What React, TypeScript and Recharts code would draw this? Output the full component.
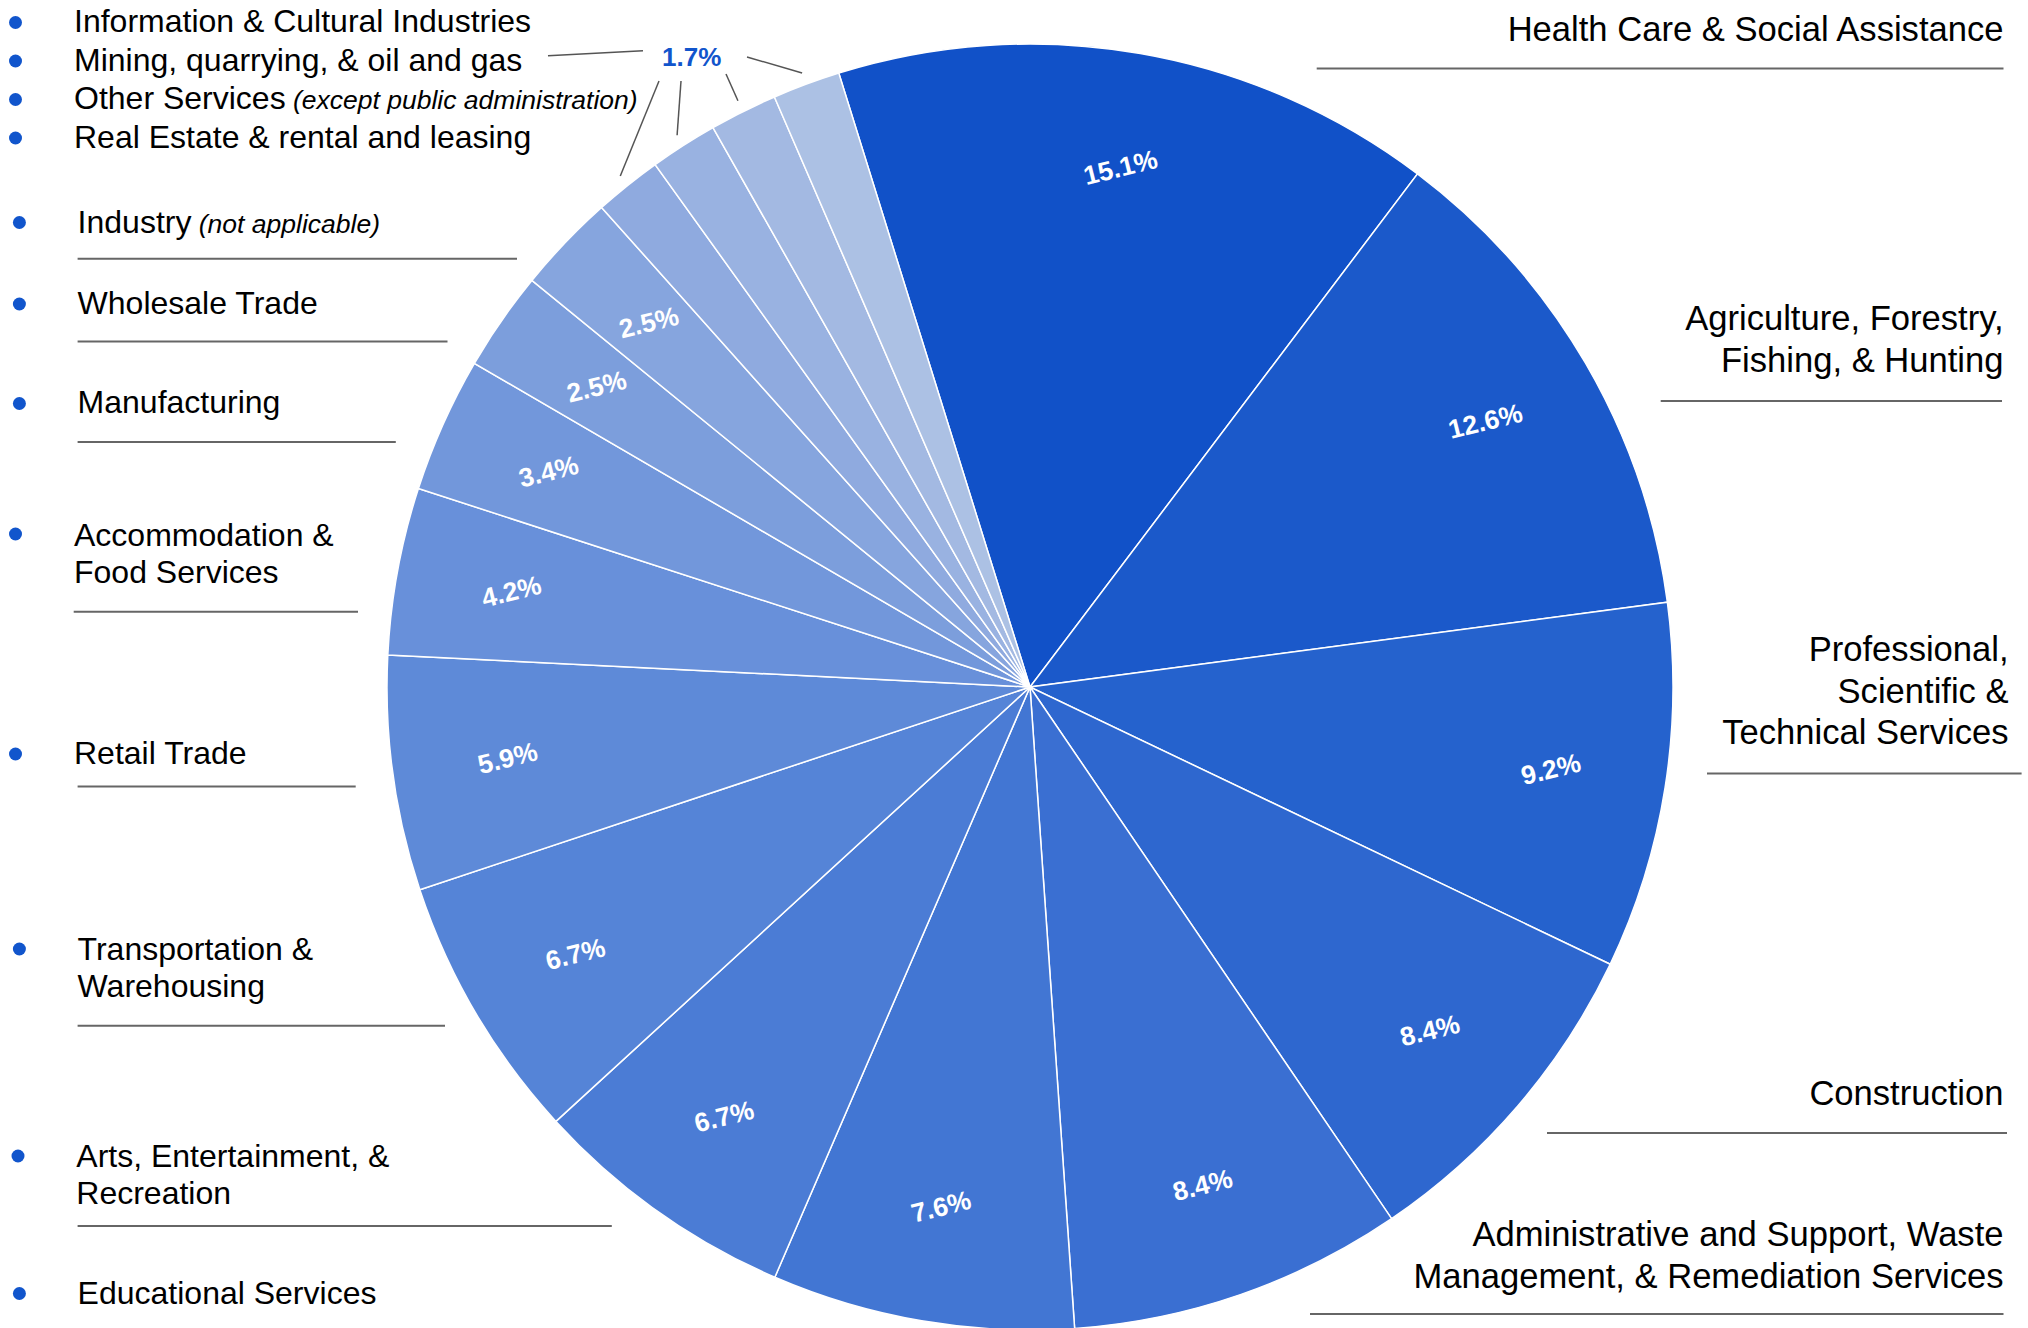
import { PieChart, Pie, Cell } from 'recharts'

// slices in clockwise order, starting with Health Care at the top
const categories = [
  'Health Care & Social Assistance',
  'Agriculture, Forestry,\nFishing, & Hunting',
  'Professional,\nScientific &\nTechnical Services',
  'Construction',
  'Administrative and Support, Waste\nManagement, & Remediation Services',
  'Educational Services',
  'Arts, Entertainment, &\nRecreation',
  'Transportation &\nWarehousing',
  'Retail Trade',
  'Accommodation &\nFood Services',
  'Manufacturing',
  'Wholesale Trade',
  'Industry',
  'Real Estate & rental and leasing',
  'Other Services',
  'Mining, quarrying, & oil and gas',
  'Information & Cultural Industries',
]

const categoryNotes = ['', '', '', '', '', '', '', '', '', '', '', '', '(not applicable)', '', '(except public administration)', '', '']

const shares = [15.1, 12.6, 9.2, 8.4, 8.4, 7.6, 6.7, 6.7, 5.9, 4.2, 3.4, 2.5, 2.5, 1.7, 1.7, 1.7, 1.7]

const sliceColors = [
  '#1151c8', '#1b59ca', '#2562cd', '#2e67cf', '#3a6fd2', '#4276d3', '#4b7cd5', '#5584d7',
  '#5e8ad8', '#6890da', '#7297db', '#7c9edc', '#86a5de', '#8faadf', '#99b2e1', '#a3b9e2', '#acc1e4',
]

// the 1.7% slices share one callout label
const SMALL_LABEL = '1.7%'

const data = categories.map((name, i) => ({ name, value: shares[i] }))

const FONT = '"Liberation Sans", Arial, Helvetica, sans-serif'
const RAD = Math.PI / 180
const CX = 1030
const CY = 687
const R = 643

// where each leader line leaves the 1.7% callout
const LEADER_FROM: Record<number, [number, number]> = {
  13: [659, 81],
  14: [681, 81],
  15: [726, 74],
  16: [747, 57],
}

const LEFT = [
  { i: 16, x: 74, y: 32, bx: 15.5, by: 22.5 },
  { i: 15, x: 74, y: 70.5, bx: 15.5, by: 61 },
  { i: 14, x: 74, y: 109, bx: 15.5, by: 99.5 },
  { i: 13, x: 74, y: 147.5, bx: 15.5, by: 138 },
  { i: 12, x: 77.6, y: 232.5, bx: 19.4, by: 222.5, rule: [77.6, 517, 258.7] },
  { i: 11, x: 77.6, y: 314, bx: 19.4, by: 304, rule: [77.6, 447.5, 341.5] },
  { i: 10, x: 77.6, y: 412.5, bx: 19.4, by: 403.5, rule: [77.6, 395.8, 442] },
  { i: 9, x: 74, y: 545.5, bx: 15.5, by: 534, rule: [73.7, 358, 611.8] },
  { i: 8, x: 74, y: 764, bx: 15.5, by: 754, rule: [77.6, 355.7, 786.4] },
  { i: 7, x: 77.6, y: 959.5, bx: 19.4, by: 949, rule: [77.6, 445, 1025.7] },
  { i: 6, x: 76.3, y: 1166.5, bx: 18, by: 1156, rule: [77.6, 611.8, 1226] },
  { i: 5, x: 77.6, y: 1303.5, bx: 19.4, by: 1293.5 },
]

const RIGHT = [
  { i: 0, x: 2003.5, y: 40.5, rule: [1316.7, 2003.5, 68.5] },
  { i: 1, x: 2003.5, y: 330, rule: [1660.7, 2002, 401] },
  { i: 2, x: 2008.6, y: 661, rule: [1707, 2021.6, 773.5] },
  { i: 3, x: 2003.5, y: 1105, rule: [1547, 2007, 1133] },
  { i: 4, x: 2003.5, y: 1246, rule: [1310, 2003.5, 1314] },
]

// eslint-disable-next-line @typescript-eslint/no-explicit-any
function renderSliceLabel(props: any) {
  const { cx, cy, midAngle, outerRadius, index, value } = props
  const from = LEADER_FROM[index]
  if (from) {
    const r = outerRadius + 12
    return (
      <line
        key={`lead-${index}`}
        x1={from[0]}
        y1={from[1]}
        x2={cx + r * Math.cos(midAngle * RAD)}
        y2={cy - r * Math.sin(midAngle * RAD)}
        stroke="#555"
        strokeWidth={1.5}
      />
    )
  }
  const r = outerRadius * 0.82
  const x = cx + r * Math.cos(midAngle * RAD)
  const y = cy - r * Math.sin(midAngle * RAD)
  return (
    <text
      key={`lbl-${index}`}
      x={x}
      y={y}
      fill="#fff"
      fontSize={26.5}
      fontWeight="bold"
      fontFamily={FONT}
      textAnchor="middle"
      dominantBaseline="central"
      transform={`rotate(-14 ${x} ${y})`}
    >
      {value}%
    </text>
  )
}

function Rule({ r }: { r?: number[] }) {
  if (!r) return null
  return <line x1={r[0]} x2={r[1]} y1={r[2]} y2={r[2]} stroke="#666" strokeWidth={2} />
}

export default function App() {
  return (
    <div style={{ position: 'absolute', left: 0, top: 0, width: 2028, height: 1328, background: '#fff', overflow: 'hidden' }}>
      <PieChart width={2028} height={1328} margin={{ top: 0, right: 0, bottom: 0, left: 0 }}>
        <Pie
          data={data}
          dataKey="value"
          nameKey="name"
          cx={CX}
          cy={CY}
          outerRadius={R}
          startAngle={107.3}
          endAngle={-252.7}
          stroke="#fff"
          strokeWidth={1.5}
          label={renderSliceLabel}
          labelLine={false}
          isAnimationActive={false}
        >
          {data.map((d, i) => (
            <Cell key={d.name} fill={sliceColors[i]} />
          ))}
        </Pie>
      </PieChart>

      <svg width={2028} height={1328} style={{ position: 'absolute', left: 0, top: 0, pointerEvents: 'none' }} fontFamily={FONT}>
        <text x={691.7} y={65.5} fill="#1155cc" fontSize={26} fontWeight="bold" textAnchor="middle">
          {SMALL_LABEL}
        </text>
        <line x1={548} y1={55.7} x2={643} y2={50.7} stroke="#555" strokeWidth={1.5} />

        {LEFT.map((e) => {
          const lines = categories[e.i].split('\n')
          return (
            <g key={e.i}>
              <circle cx={e.bx} cy={e.by} r={6.5} fill="#1155cc" />
              {lines.map((ln, k) => (
                <text key={k} x={e.x} y={e.y + k * 37.5} fontSize={32} fill="#000">
                  {ln}
                  {k === lines.length - 1 && categoryNotes[e.i] ? (
                    <tspan fontSize={26.5} fontStyle="italic">{' ' + categoryNotes[e.i]}</tspan>
                  ) : null}
                </text>
              ))}
              <Rule r={e.rule} />
            </g>
          )
        })}

        {RIGHT.map((e) => (
          <g key={e.i}>
            {categories[e.i].split('\n').map((ln, k) => (
              <text key={k} x={e.x} y={e.y + k * 41.5} fontSize={34.6} fill="#000" textAnchor="end">
                {ln}
              </text>
            ))}
            <Rule r={e.rule} />
          </g>
        ))}
      </svg>
    </div>
  )
}
